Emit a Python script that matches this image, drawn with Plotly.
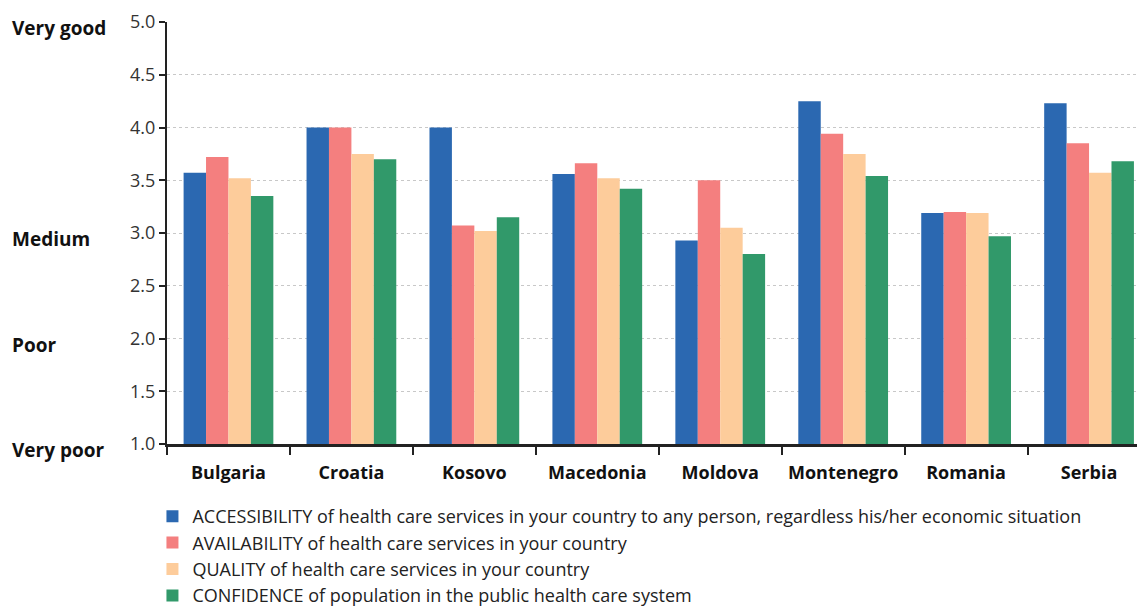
import plotly.graph_objects as go

countries = ["Bulgaria", "Croatia", "Kosovo", "Macedonia", "Moldova",
             "Montenegro", "Romania", "Serbia"]

accessibility = [3.57, 4.00, 4.00, 3.56, 2.93, 4.25, 3.19, 4.23]
availability = [3.72, 4.00, 3.07, 3.66, 3.50, 3.94, 3.20, 3.85]
quality = [3.52, 3.75, 3.02, 3.52, 3.05, 3.75, 3.19, 3.57]
confidence = [3.35, 3.70, 3.15, 3.42, 2.80, 3.54, 2.97, 3.68]

series_names = [
    "ACCESSIBILITY of health care services in your country to any person, regardless his/her economic situation",
    "AVAILABILITY of health care services in your country",
    "QUALITY of health care services in your country",
    "CONFIDENCE of population in the public health care system",
]
series_values = [accessibility, availability, quality, confidence]
series_colors = ["#2B68B1", "#F47F7F", "#FDCC9B", "#31996A"]

y_ticks = [1.0, 1.5, 2.0, 2.5, 3.0, 3.5, 4.0, 4.5, 5.0]
scale_labels = [("Very good", 5.0), ("Medium", 3.0), ("Poor", 2.0), ("Very poor", 1.0)]

FONT = "Open Sans, Noto Sans, sans-serif"

fig = go.Figure()
for name, vals, col in zip(series_names, series_values, series_colors):
    fig.add_trace(go.Bar(x=countries, y=vals, name=name, marker_color=col,
                         marker_line_width=0))

for text, yv in scale_labels:
    fig.add_annotation(text=f"<b>{text}</b>", x=0, xref="paper", xanchor="left",
                       xshift=-157, y=yv, yref="y", yanchor="middle", yshift=-6,
                       showarrow=False, font=dict(family=FONT, size=19, color="#111"))

fig.update_layout(
    width=1139, height=608,
    margin=dict(l=167, r=2, t=22, b=164, autoexpand=False),
    paper_bgcolor="white", plot_bgcolor="white",
    barmode="group", bargap=0.27, bargroupgap=0,
    font=dict(family=FONT, color="#333"),
    showlegend=True,
    legend=dict(orientation="v", x=-0.015, xanchor="left", y=-0.128,
                yanchor="top", font=dict(family=FONT, size=18, color="#222"),
                tracegroupgap=0, itemwidth=30, bgcolor="rgba(0,0,0,0)"),
)

fig.update_xaxes(
    range=[-0.5, 7.39], showline=True, linecolor="#222", linewidth=3,
    ticks="outside", tickson="boundaries", ticklen=8, tickwidth=2,
    tickcolor="#222", tickfont=dict(family=FONT, size=18, color="#111"),
    ticklabelstandoff=10,
    showgrid=False, tickprefix="<b>", ticksuffix="</b>",
)
fig.update_yaxes(
    range=[1.0, 5.0], tickvals=y_ticks, tickformat=".1f",
    showline=True, linecolor="#222", linewidth=2,
    ticks="outside", ticklen=6, tickwidth=2, tickcolor="#222",
    tickfont=dict(family=FONT, size=18, color="#333"),
    showgrid=True, gridcolor="#C8C8C8", griddash="dot", gridwidth=1,
    zeroline=False,
)

fig.write_html("out.html")
